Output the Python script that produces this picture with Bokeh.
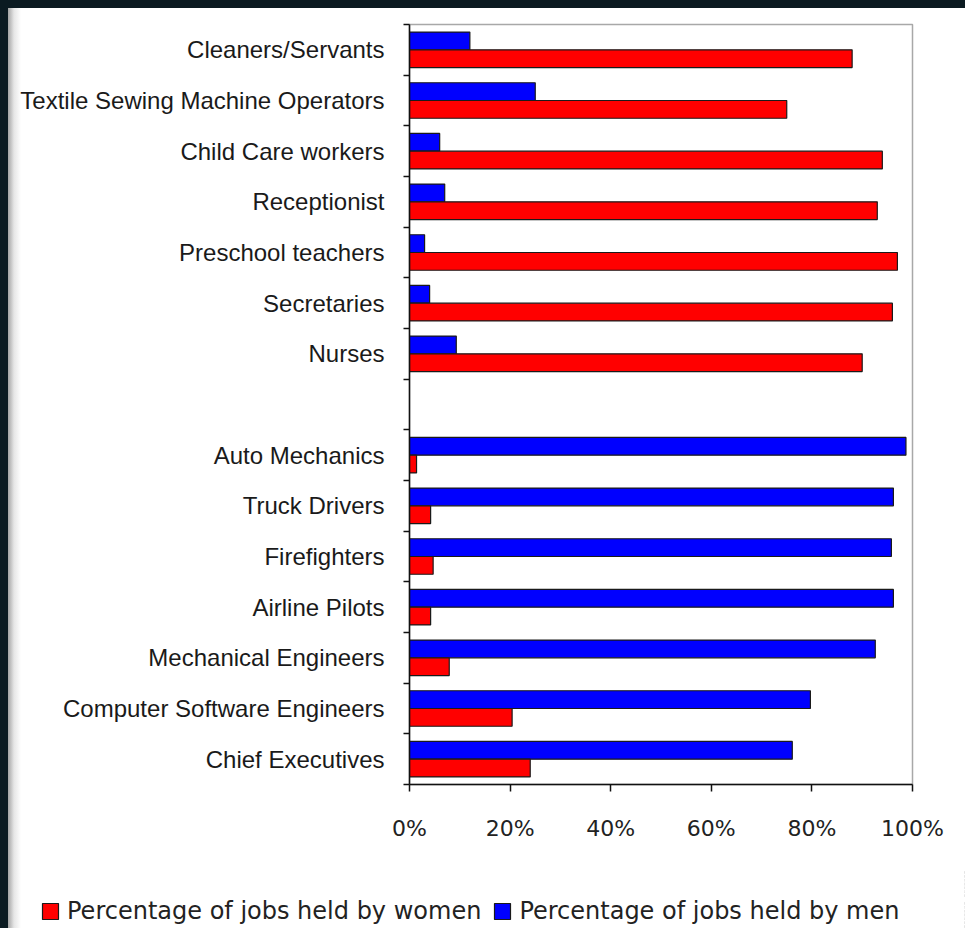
from bokeh.plotting import figure
from bokeh.models import (Range1d, FixedTicker, PrintfTickFormatter, ColumnDataSource,
                          Legend, LegendItem)
from bokeh.transform import dodge
from bokeh.layouts import column
from bokeh.embed import file_html
from bokeh.resources import INLINE

# Occupations, top to bottom; "" marks the empty slot between the two groups
occupations = [
    "Cleaners/Servants",
    "Textile Sewing Machine Operators",
    "Child Care workers",
    "Receptionist",
    "Preschool teachers",
    "Secretaries",
    "Nurses",
    "",
    "Auto Mechanics",
    "Truck Drivers",
    "Firefighters",
    "Airline Pilots",
    "Mechanical Engineers",
    "Computer Software Engineers",
    "Chief Executives",
]
pct_women = [88, 75, 94, 93, 97, 96, 90, None, 1.4, 4.2, 4.7, 4.2, 7.9, 20.4, 24]
pct_men = [12, 25, 6, 7, 3, 4, 9.3, None, 98.7, 96.2, 95.8, 96.2, 92.6, 79.7, 76.1]
x_ticks = [0, 20, 40, 60, 80, 100]
series_labels = ["Percentage of jobs held by women", "Percentage of jobs held by men"]

WOMEN_COLOR = "#ff0000"
MEN_COLOR = "#0000ff"
EDGE = "#1a1a1a"
DARK = "#0b1a21"
PANEL_STYLE = {"background": "linear-gradient(to right, #a4a4a4 0px, #e6e6e6 6px, #ffffff 13px)"}

n = len(occupations)
slot_centers = [n - i - 0.5 for i in range(n)]

rows = [i for i, name in enumerate(occupations) if name]
src = ColumnDataSource(dict(
    y=[slot_centers[i] for i in rows],
    women=[pct_women[i] for i in rows],
    men=[pct_men[i] for i in rows],
))

BAR_H = 0.35
OFF = 0.175


def add_bars(fig):
    # men above, women below within each slot
    m = fig.hbar(y=dodge("y", OFF), left=0, right="men", height=BAR_H, source=src,
                 fill_color=MEN_COLOR, line_color=EDGE, line_width=1.2)
    w = fig.hbar(y=dodge("y", -OFF), left=0, right="women", height=BAR_H, source=src,
                 fill_color=WOMEN_COLOR, line_color=EDGE, line_width=1.2)
    return m, w


p = figure(width=957, height=862, output_backend="svg", toolbar_location=None,
           x_range=Range1d(0, 100), y_range=Range1d(0, n),
           frame_width=503, frame_height=760,
           min_border_left=401, min_border_right=53,
           min_border_top=16, min_border_bottom=86)
p.margin = (8, 0, 0, 8)
p.border_fill_color = None
p.background_fill_color = "white"
p.styles = PANEL_STYLE
p.outline_line_color = "#a8a8a8"
p.outline_line_width = 1.5
p.xgrid.visible = False
p.ygrid.visible = False

men_r, women_r = add_bars(p)

# x axis: percentages
xa = p.xaxis[0]
xa.ticker = FixedTicker(ticks=x_ticks, minor_ticks=[])
xa.formatter = PrintfTickFormatter(format="%d%%")
xa.axis_line_color = "#111111"
xa.axis_line_width = 1.5
xa.major_tick_line_color = "#111111"
xa.major_tick_line_width = 1.5
xa.major_tick_out = 7
xa.major_tick_in = 0
xa.minor_tick_line_color = None
xa.major_label_standoff = 24
xa.major_label_text_font = "DejaVu Sans"
xa.major_label_text_font_size = "22px"
xa.major_label_text_color = "#222222"

# y axis: names at slot centres, tick marks at slot boundaries
ya = p.yaxis[0]
ya.ticker = FixedTicker(ticks=slot_centers, minor_ticks=list(range(n + 1)))
ya.major_label_overrides = {c: name for c, name in zip(slot_centers, occupations)}
ya.axis_line_color = "#111111"
ya.axis_line_width = 1.5
ya.major_tick_out = 0
ya.major_tick_in = 0
ya.major_tick_line_color = None
ya.minor_tick_out = 6
ya.minor_tick_in = 0
ya.minor_tick_line_color = "#111111"
ya.minor_tick_line_width = 1.5
ya.major_label_standoff = 19
ya.major_label_text_font = "Liberation Sans"
ya.major_label_text_font_size = "24px"
ya.major_label_text_color = "#1a1a1a"

# legend strip below the chart; its bars lie outside its view, only the keys show
leg = figure(width=957, height=58, output_backend="svg", toolbar_location=None,
             x_axis_type=None, y_axis_type=None, min_border=0,
             x_range=Range1d(-2, -1), y_range=Range1d(0, n))
leg.frame_align = False
leg.margin = (0, 0, 0, 8)
leg.border_fill_color = None
leg.background_fill_color = None
leg.styles = PANEL_STYLE
leg.outline_line_color = None
leg.xgrid.visible = False
leg.ygrid.visible = False
key_m, key_w = add_bars(leg)

legend = Legend(items=[
    LegendItem(label=series_labels[0], renderers=[key_w]),
    LegendItem(label=series_labels[1], renderers=[key_m]),
], orientation="horizontal", location=(32, 3))
legend.background_fill_alpha = 0
legend.border_line_color = None
legend.padding = 0
legend.margin = 0
legend.spacing = 11
legend.label_standoff = 7
legend.glyph_width = 20
legend.glyph_height = 20
legend.label_text_font = "DejaVu Sans"
legend.label_text_font_size = "24px"
legend.label_text_color = "#222222"
leg.add_layout(legend, "center")

page = column(p, leg, styles={"background-color": DARK})
page.width = 965
page.height = 928

open("out.html", "w").write(file_html(page, INLINE))
